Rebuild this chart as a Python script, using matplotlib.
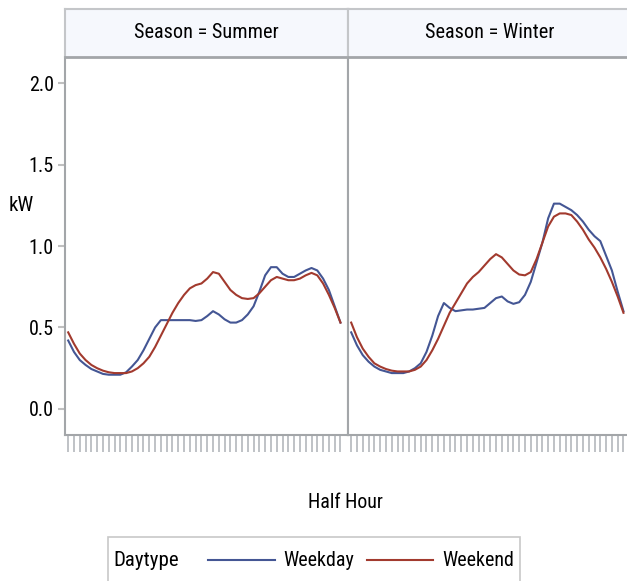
import matplotlib
matplotlib.use("Agg")
import matplotlib.pyplot as plt
import numpy as np
from matplotlib.lines import Line2D
from matplotlib.patches import Rectangle

plt.rcParams["font.family"] = ["Roboto Condensed", "DejaVu Sans Condensed", "Roboto", "DejaVu Sans"]

half_hour = np.arange(1, 49)
seasons = ["Summer", "Winter"]

summer_weekday = [0.42, 0.35, 0.30, 0.27, 0.245, 0.23, 0.215, 0.21, 0.21, 0.21,
                  0.225, 0.26, 0.30, 0.36, 0.43, 0.50, 0.545, 0.545, 0.545, 0.545,
                  0.545, 0.545, 0.54, 0.545, 0.57, 0.60, 0.58, 0.55, 0.53, 0.53,
                  0.545, 0.58, 0.63, 0.72, 0.82, 0.87, 0.87, 0.83, 0.81, 0.81,
                  0.83, 0.85, 0.865, 0.85, 0.80, 0.73, 0.63, 0.53]
summer_weekend = [0.47, 0.40, 0.34, 0.30, 0.27, 0.25, 0.235, 0.225, 0.22, 0.22,
                  0.22, 0.23, 0.25, 0.28, 0.32, 0.38, 0.45, 0.52, 0.59, 0.65,
                  0.70, 0.74, 0.76, 0.77, 0.80, 0.84, 0.83, 0.78, 0.73, 0.70,
                  0.68, 0.675, 0.68, 0.71, 0.75, 0.79, 0.81, 0.80, 0.79, 0.79,
                  0.80, 0.82, 0.835, 0.82, 0.77, 0.70, 0.62, 0.53]
winter_weekday = [0.47, 0.39, 0.33, 0.29, 0.26, 0.24, 0.23, 0.22, 0.22, 0.22,
                  0.23, 0.25, 0.28, 0.35, 0.45, 0.57, 0.65, 0.62, 0.60, 0.605,
                  0.61, 0.61, 0.615, 0.62, 0.65, 0.68, 0.69, 0.66, 0.645, 0.655,
                  0.70, 0.78, 0.90, 1.02, 1.17, 1.26, 1.26, 1.24, 1.22, 1.19,
                  1.15, 1.10, 1.06, 1.03, 0.94, 0.85, 0.72, 0.60]
winter_weekend = [0.53, 0.44, 0.37, 0.32, 0.28, 0.26, 0.245, 0.235, 0.23, 0.23,
                  0.23, 0.24, 0.26, 0.30, 0.36, 0.43, 0.51, 0.59, 0.65, 0.71,
                  0.77, 0.81, 0.84, 0.88, 0.92, 0.95, 0.93, 0.89, 0.85, 0.825,
                  0.82, 0.84, 0.92, 1.02, 1.12, 1.18, 1.20, 1.20, 1.19, 1.15,
                  1.10, 1.04, 0.99, 0.93, 0.86, 0.78, 0.69, 0.59]

data = {
    "Summer": (summer_weekday, summer_weekend),
    "Winter": (winter_weekday, winter_weekend),
}
blue = "#445694"
red = "#A23A2E"
frame = "#a3a6a9"

W, H = 627, 581
fig = plt.figure(figsize=(W / 100, H / 100), dpi=100)

left_px = [65, 348]
panel_w = 283
top_px, bot_px = 57, 435

for i, s in enumerate(seasons):
    ax = fig.add_axes([left_px[i] / W, 1 - bot_px / H, panel_w / W, (bot_px - top_px) / H])
    wd, we = data[s]
    ax.plot(half_hour, wd, color=blue, lw=1.5)
    ax.plot(half_hour, we, color=red, lw=1.5)
    ax.set_xlim(0.45, 49.3)
    ax.set_ylim(-0.16, 2.16)
    ax.set_xticks(half_hour)
    ax.tick_params(axis="x", length=12, width=1.2, color="#b4b8bc", labelbottom=False)
    if i == 0:
        ax.set_yticks([0, 0.5, 1.0, 1.5, 2.0])
        ax.set_yticklabels(["0.0", "0.5", "1.0", "1.5", "2.0"], fontsize=14.5)
        ax.tick_params(axis="y", length=5, width=1.5, color="#c0c0c0", pad=3)
    else:
        ax.set_yticks([])
    for sp in ax.spines.values():
        sp.set_color(frame)
        sp.set_linewidth(1.5)
    ax.spines["top"].set_visible(False)

    # header strip
    hx = fig.add_axes([left_px[i] / W, 1 - top_px / H, panel_w / W, 48 / H])
    hx.set_facecolor("#f6f8fd")
    hx.set_xticks([])
    hx.set_yticks([])
    for sp in hx.spines.values():
        sp.set_color("#c4c6c9")
        sp.set_linewidth(1.5)
    hx.spines["bottom"].set_color(frame)
    hx.spines["bottom"].set_linewidth(2)
    hx.text(0.5, 0.5, f"Season = {s}", ha="center", va="center", fontsize=14.6,
            transform=hx.transAxes)

fig.text(9 / W, 1 - 205 / H, "kW", fontsize=15, ha="left", va="center")
fig.text(345 / W, 1 - 502 / H, "Half Hour", fontsize=14.3, ha="center", va="center")

# legend box
fig.patches.append(Rectangle((108 / W, -0.01), (520 - 108) / W, 1 - 537 / H + 0.01,
                             transform=fig.transFigure, facecolor="white",
                             edgecolor="#c8c8c8", lw=1.2))
ly = 1 - 560 / H
fig.text(113 / W, ly, "Daytype", fontsize=15, ha="left", va="center")
fig.lines.append(Line2D([208 / W, 275 / W], [ly, ly], color=blue, lw=1.5,
                        transform=fig.transFigure))
fig.text(283 / W, ly, "Weekday", fontsize=14.4, ha="left", va="center")
fig.lines.append(Line2D([367 / W, 433 / W], [ly, ly], color=red, lw=1.5,
                        transform=fig.transFigure))
fig.text(442 / W, ly, "Weekend", fontsize=14.4, ha="left", va="center")

fig.savefig("out.png", dpi=100)
